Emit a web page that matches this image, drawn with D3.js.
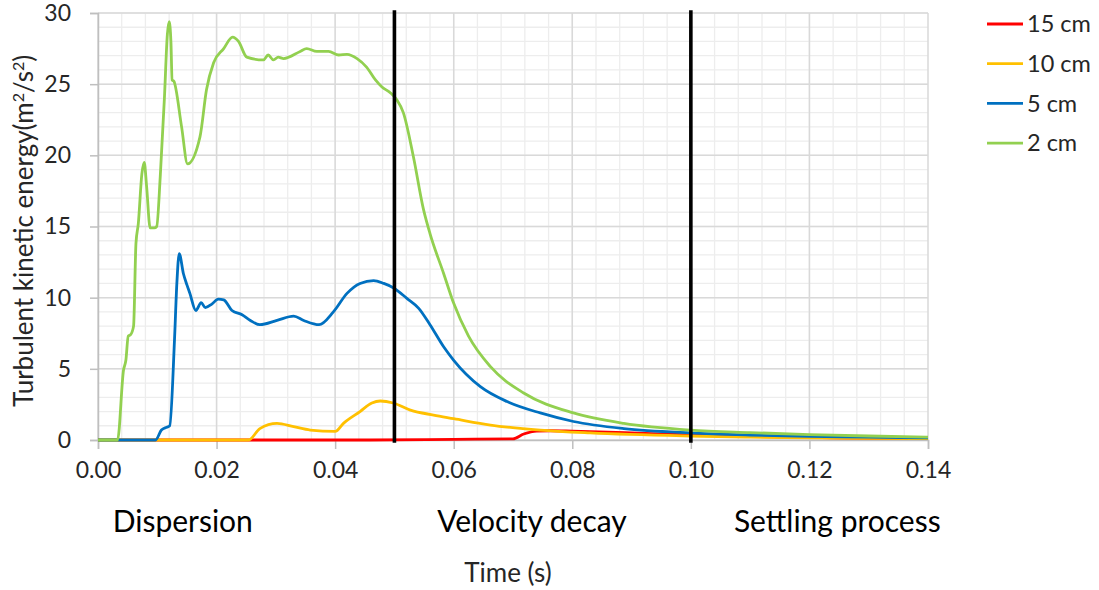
<!doctype html>
<html>
<head>
<meta charset="utf-8">
<script src="https://cdn.jsdelivr.net/npm/d3@7"></script>
<style>
  body { margin: 0; background: #fff; }
  svg { display: block; font-family: Lato, "Open Sans", sans-serif; }
</style>
</head>
<body>
<svg width="1099" height="590"></svg>
<script>
// time (s) and turbulent kinetic energy (m2/s2)
var red15T = [0, 0.045, 0.06, 0.07, 0.0718, 0.074, 0.0763, 0.08, 0.09, 0.1, 0.11, 0.12, 0.13, 0.14];
var red15V = [0, 0, 0.05, 0.08, 0.42, 0.63, 0.65, 0.62, 0.5, 0.35, 0.25, 0.18, 0.12, 0.1];

var yellow10T = [0, 0.0254, 0.0273, 0.0302, 0.033, 0.0358, 0.04, 0.0414, 0.0442, 0.0462, 0.0476, 0.0498,
                 0.0527, 0.0566, 0.06, 0.0662, 0.0746, 0.083, 0.0999, 0.11, 0.12, 0.13, 0.14];
var yellow10V = [0, 0, 0.8, 1.17, 0.94, 0.7, 0.6, 1.17, 2.0, 2.6, 2.74, 2.6,
                 2.1, 1.75, 1.5, 1.05, 0.7, 0.5, 0.28, 0.2, 0.15, 0.12, 0.1];

var blue5T = [0, 0.0097, 0.0107, 0.0116, 0.0121, 0.0129, 0.0133, 0.0137, 0.0144, 0.015, 0.0155, 0.0165,
              0.0174, 0.0181, 0.0192, 0.0203, 0.0212, 0.0226, 0.0243, 0.0257, 0.0273, 0.0302, 0.033,
              0.0347, 0.0373, 0.0397, 0.042, 0.0442, 0.0465, 0.0482, 0.0498, 0.0521, 0.0541, 0.056,
              0.0583, 0.06, 0.0645, 0.069, 0.0746, 0.0802, 0.0887, 0.0999, 0.11, 0.12, 0.13, 0.14];
var blue5V = [0, 0, 0.7, 0.9, 1.0, 7.0, 11.0, 13.1, 11.7, 10.9, 10.3, 9.1,
              9.65, 9.3, 9.55, 9.9, 9.85, 9.1, 8.8, 8.4, 8.1, 8.4, 8.7,
              8.4, 8.1, 9.0, 10.3, 11.0, 11.2, 11.0, 10.7, 9.95, 9.25, 8.1,
              6.55, 5.6, 3.75, 2.7, 1.9, 1.3, 0.8, 0.5, 0.35, 0.25, 0.2, 0.15];

var green2T = [0, 0.0033, 0.0043, 0.0047, 0.0051, 0.0055, 0.006, 0.0064, 0.0068, 0.0074, 0.0078, 0.0082,
               0.0088, 0.0095, 0.0099, 0.0105, 0.0112, 0.0117, 0.012, 0.0123, 0.0125, 0.0128, 0.0141,
               0.0151, 0.0172, 0.0183, 0.0195, 0.0212, 0.0227, 0.0237, 0.0251, 0.0279, 0.0287, 0.0296,
               0.0304, 0.0313, 0.0341, 0.0352, 0.0369, 0.0389, 0.0406, 0.042, 0.0437, 0.0453, 0.0468,
               0.0479, 0.0493, 0.0504, 0.0515, 0.0532, 0.0549, 0.056, 0.0583, 0.06, 0.0625, 0.0662,
               0.0718, 0.0802, 0.0887, 0.0999, 0.11, 0.12, 0.13, 0.14];
var green2V = [0, 0, 4.9, 5.6, 7.3, 7.4, 8.0, 13.8, 15.2, 18.7, 19.5, 17.8,
               14.9, 14.9, 15.0, 18.5, 24.0, 28.5, 29.4, 28.0, 25.3, 25.2, 22.0,
               19.4, 21.3, 24.6, 26.5, 27.5, 28.3, 28.0, 26.9, 26.7, 27.05, 26.7,
               26.9, 26.8, 27.3, 27.5, 27.3, 27.3, 27.05, 27.1, 26.8, 26.2, 25.3,
               24.8, 24.4, 23.9, 23.0, 19.9, 16.2, 14.5, 11.7, 9.6, 7.3, 5.15,
               3.3, 1.9, 1.17, 0.7, 0.52, 0.38, 0.28, 0.2];

var seriesNames = ["15 cm", "10 cm", "5 cm", "2 cm"];
var seriesColors = ["#ff0000", "#ffc000", "#0070c0", "#92d050"];
var xTicks = [0, 0.02, 0.04, 0.06, 0.08, 0.10, 0.12, 0.14];
var yTicks = [0, 5, 10, 15, 20, 25, 30];
var phaseBreaks = [0.05, 0.10];
var phaseNames = ["Dispersion", "Velocity decay", "Settling process"];
var phaseCenters = [0.0143, 0.0732, 0.1247];

function zip(t, v) { return t.map(function(d, i) { return {t: d, v: v[i]}; }); }
var series = [zip(red15T, red15V), zip(yellow10T, yellow10V), zip(blue5T, blue5V), zip(green2T, green2V)];

var svg = d3.select("svg");
var xScale = d3.scaleLinear().domain([0, 0.14]).range([98, 928]);
var yScale = d3.scaleLinear().domain([0, 30]).range([440, 13]);

// minor grid
svg.append("g").selectAll("line")
  .data(d3.range(0, 35).map(function(i) { return i * 0.004; }))
  .enter().append("line")
  .attr("x1", function(d) { return xScale(d); }).attr("x2", function(d) { return xScale(d); })
  .attr("y1", yScale(30)).attr("y2", yScale(0))
  .attr("stroke", "#ededed").attr("stroke-width", 1.3);
svg.append("g").selectAll("line")
  .data(d3.range(0, 31))
  .enter().append("line")
  .attr("x1", xScale(0)).attr("x2", xScale(0.14))
  .attr("y1", function(d) { return yScale(d); }).attr("y2", function(d) { return yScale(d); })
  .attr("stroke", "#ededed").attr("stroke-width", 1.3);

// major grid
svg.append("g").selectAll("line")
  .data(xTicks)
  .enter().append("line")
  .attr("x1", function(d) { return xScale(d); }).attr("x2", function(d) { return xScale(d); })
  .attr("y1", yScale(30)).attr("y2", yScale(0))
  .attr("stroke", "#d9d9d9").attr("stroke-width", 1.5);
svg.append("g").selectAll("line")
  .data(yTicks)
  .enter().append("line")
  .attr("x1", xScale(0)).attr("x2", xScale(0.14))
  .attr("y1", function(d) { return yScale(d); }).attr("y2", function(d) { return yScale(d); })
  .attr("stroke", "#d9d9d9").attr("stroke-width", 1.5);

var xAxis = d3.axisBottom(xScale).tickValues(xTicks).tickFormat(d3.format(".2f")).tickSize(9).tickPadding(13);
var yAxis = d3.axisLeft(yScale).tickValues(yTicks).tickSize(8).tickPadding(19);

var xg = svg.append("g").attr("transform", "translate(0," + yScale(0) + ")").call(xAxis);
var yg = svg.append("g").attr("transform", "translate(" + xScale(0) + ",0)").call(yAxis);
[xg, yg].forEach(function(g) {
  g.select(".domain").attr("stroke", "#bfbfbf").attr("stroke-width", 1.5);
  g.selectAll(".tick line").attr("stroke", "#bfbfbf").attr("stroke-width", 1.5);
  g.selectAll(".tick text").attr("fill", "#262626").style("font-size", "23px").style("font-family", "Lato, sans-serif");
});

// series lines
var line = d3.line()
  .x(function(d) { return xScale(d.t); })
  .y(function(d) { return yScale(d.v); })
  .curve(d3.curveMonotoneX);

svg.append("g").selectAll("path")
  .data(series)
  .enter().append("path")
  .attr("d", line)
  .attr("fill", "none")
  .attr("stroke", function(d, i) { return seriesColors[i]; })
  .attr("stroke-width", 2.8)
  .attr("stroke-linejoin", "round");

// phase separators
svg.append("g").selectAll("line")
  .data(phaseBreaks)
  .enter().append("line")
  .attr("x1", function(d) { return xScale(d); }).attr("x2", function(d) { return xScale(d); })
  .attr("y1", yScale(30.2)).attr("y2", yScale(-0.2))
  .attr("stroke", "#000").attr("stroke-width", 3.6);

svg.append("g").selectAll("text")
  .data(phaseNames)
  .enter().append("text")
  .attr("x", function(d, i) { return xScale(phaseCenters[i]); })
  .attr("y", 532)
  .attr("text-anchor", "middle")
  .style("font-size", "30px")
  .attr("fill", "#000")
  .text(function(d) { return d; });

// axis titles
svg.append("text")
  .attr("x", 508).attr("y", 582)
  .attr("text-anchor", "middle")
  .style("font-size", "26px").attr("fill", "#262626")
  .text("Time (s)");

var yt = svg.append("text")
  .attr("transform", "translate(33,407) rotate(-90)")
  .attr("text-anchor", "start")
  .style("font-size", "26px").attr("fill", "#262626");
yt.append("tspan").text("Turbulent kinetic energy(m");
yt.append("tspan").attr("baseline-shift", "super").style("font-size", "16px").text("2");
yt.append("tspan").text("/s");
yt.append("tspan").attr("baseline-shift", "super").style("font-size", "16px").text("2");
yt.append("tspan").text(")");

// legend
var leg = svg.append("g").selectAll("g")
  .data(seriesNames)
  .enter().append("g")
  .attr("transform", function(d, i) { return "translate(987," + (24 + i * 39.7) + ")"; });
leg.append("line")
  .attr("x1", 0).attr("x2", 36)
  .attr("stroke", function(d, i) { return seriesColors[i]; })
  .attr("stroke-width", 2.8);
leg.append("text")
  .attr("x", 40).attr("dy", "0.35em")
  .style("font-size", "23.5px").attr("fill", "#262626")
  .text(function(d) { return d; });
</script>
</body>
</html>
